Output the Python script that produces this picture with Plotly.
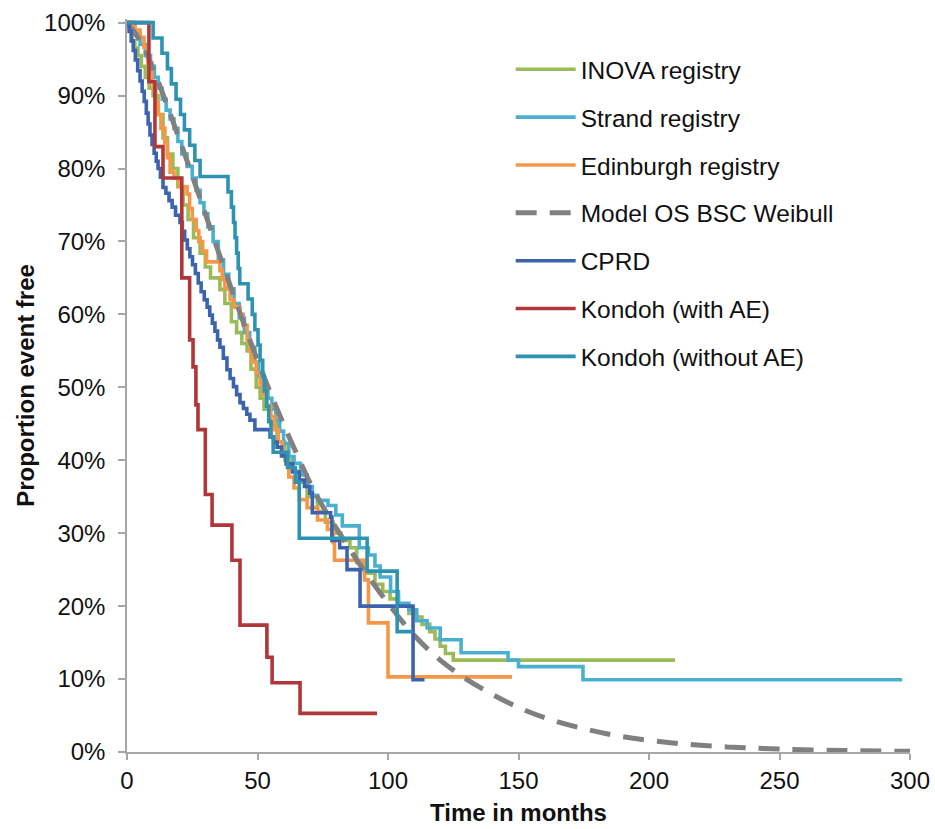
import plotly.graph_objects as go

# Kaplan-Meier style survival data (time in months, proportion event free in %)
inova_t = [0, 1, 2, 3, 4.2, 5.5, 7, 8.5, 10, 11.9, 13.8, 15.5, 17.6, 19.5, 21.5, 23.4, 25.5, 28, 30, 32,
           35.6, 37.5, 40, 42, 44, 46, 47.5, 49.5, 51, 52.5, 55, 57.5, 60.5, 63, 66, 69, 73, 76, 79, 82,
           85.4, 88, 91, 95, 98, 100.8, 104, 108, 111, 113, 116, 118, 120, 122, 125, 210]
inova_s = [100, 99, 97.5, 96.5, 95.5, 94, 92.5, 91, 90, 87.4, 84.2, 82, 80, 77.5, 75, 73, 70.5, 68.4, 66.5, 65,
           63.4, 61.5, 59, 57.5, 56, 55, 52.5, 50, 48.5, 47, 45, 42.5, 40, 38.5, 37, 35, 33, 31.5, 30, 29,
           28, 26, 24.5, 23, 22, 21, 20, 19, 18.5, 17.5, 16.5, 15.5, 14.5, 13.5, 12.6, 12.6]

strand_t = [0, 3, 5, 7, 9, 10.5, 12, 13.5, 15, 16.5, 18, 19.5, 21, 23, 25, 26.5, 28, 29.5, 31, 33, 35, 37,
            39, 41, 43, 45, 47, 49, 50.5, 52, 54, 55.5, 57, 58.5, 60, 62, 64, 66.5, 69, 71, 73, 77, 80,
            82.5, 89, 92.5, 95, 97, 101, 104, 108, 111, 115, 120, 128, 146, 150, 174.7, 297]
strand_s = [100, 98.5, 97, 95.5, 94, 92.5, 91, 89.5, 88, 86.8, 85.5, 83.7, 82, 80.3, 78.7, 77, 75.3, 73.8, 72,
            70, 67.5, 65.5, 63.5, 61.5, 59.5, 57.5, 55.5, 53.5, 51.5, 49.7, 48.5, 47, 45.5, 44, 42.3, 40.5,
            39.6, 38, 36.4, 35.2, 34.5, 33.8, 32.5, 31, 28, 27, 25.5, 24, 22, 20.4, 19.5, 18, 17, 15.4, 13.6,
            12.6, 11.7, 9.9, 9.9]

edinburgh_t = [0, 3, 5, 6.5, 8, 9.5, 10, 11, 12, 13, 14.5, 15.5, 16.5, 18, 20, 23, 24, 25, 26.5, 27.5, 29,
               30.5, 35.6, 36.5, 37.5, 39.5, 41, 43.3, 44.5, 46, 47, 48, 49.5, 51, 52, 53.5, 55, 56.5, 58,
               59.5, 61, 62, 64, 66, 69, 73, 76.8, 79, 79.5, 91, 92.5, 100, 147.5]
edinburgh_s = [100, 99, 98, 96.6, 94.5, 92, 91, 89, 87.4, 85.5, 83.5, 81.5, 79.5, 78.7, 77.5, 76.5, 74.5, 73,
               71.5, 70, 68.7, 67.2, 66, 64.8, 63.6, 62, 61, 60, 58.5, 56.5, 55, 53.5, 52, 50.5, 49, 47.5,
               46, 44.2, 42.5, 41.2, 39.5, 37.7, 36.2, 34.6, 33.5, 31.8, 30.5, 28.7, 26.3, 23.6, 17.7, 10.3,
               10.3]

model_t = [0, 5, 10, 15, 20, 25, 30, 35, 40, 45, 50, 55, 60, 65, 70, 75, 80, 85, 90, 95, 100, 110, 120, 130,
           140, 150, 160, 175, 190, 210, 230, 250, 275, 300]
model_s = [100, 97.5, 93.7, 89.0, 84.1, 79.0, 73.8, 68.6, 63.5, 58.5, 53.7, 49.2, 44.9, 40.9, 37.0, 33.7,
           30.8, 28.0, 25.3, 22.8, 20.4, 16.0, 12.6, 10.0, 7.9, 6.1, 4.7, 3.2, 2.1, 1.2, 0.7, 0.4, 0.2, 0.1]

cprd_t = [0, 0.8, 1.6, 2.4, 3.2, 4.1, 5.0, 5.8, 6.6, 7.4, 8.1, 8.8, 9.6, 10.4, 11.2, 11.9, 12.8, 13.8, 14.9,
          16.1, 17.3, 18.6, 20.3, 21.2, 22.1, 23.1, 24.1, 25.1, 26.2, 27.3, 28.4, 29.6, 30.7, 31.7, 32.7,
          33.7, 34.7, 35.6, 36.9, 38.3, 39.5, 40.8, 42.0, 43.3, 44.6, 45.9, 47.1, 49.0, 54.8, 56.2, 57.5,
          59.2, 61.0, 63.5, 66.0, 68.0, 70.0, 71.0, 78.0, 78.5, 81.5, 84.3, 89.3, 109.6, 114]
cprd_s = [100, 98.8, 97.5, 96.2, 94.9, 93.4, 92.0, 90.6, 89.2, 87.6, 86.1, 84.6, 83.3, 82.1, 81.0, 80.0, 78.8,
          77.4, 76.6, 75.6, 74.7, 73.6, 72.6, 71.4, 70.2, 69.0, 67.9, 66.8, 65.6, 64.3, 63.1, 62.0, 61.0,
          59.9, 58.8, 57.7, 56.5, 55.5, 54.0, 52.4, 51.2, 50.1, 49.0, 47.9, 47.1, 46.3, 45.5, 44.2, 43.2,
          42.5, 41.8, 40.6, 39.5, 38.4, 37.3, 36.4, 35.5, 32.8, 32.2, 29.0, 28.0, 25.0, 20.0, 9.9, 9.9]

kondoh_ae_t = [0, 8.4, 10.7, 13.8, 21, 24, 25.3, 26.4, 27.2, 30, 32.6, 40.2, 43.3, 53.6, 55.6, 66.3, 95.8]
kondoh_ae_s = [100, 91.9, 83, 78.7, 65, 56.5, 52.8, 47.6, 44.2, 35.3, 31.1, 26.3, 17.4, 13, 9.5, 5.3, 5.3]

kondoh_noae_t = [0, 10, 13.4, 15.5, 17, 18.8, 20.5, 22, 24, 26, 28, 38.7, 40, 40.8, 41.4, 42, 42.6, 43.2,
                 46.4, 48, 49, 50.2, 51, 52, 52.6, 53.5, 54.3, 55.2, 56, 61.5, 64.5, 66, 92, 103.5, 109.5]
kondoh_noae_s = [100, 97.9, 95.8, 93.7, 91.6, 89.5, 87.4, 85.3, 83.2, 81.1, 78.9, 76.8, 74.7, 72.6, 70.5,
                 68.4, 66.3, 64.2, 62.1, 60, 57.9, 55.8, 53.7, 51.6, 49.5, 47.4, 45.3, 43.2, 41.1, 39, 37,
                 29.3, 24.8, 16.5, 16.5]

series = [
    ("INOVA registry", inova_t, inova_s, "#9BBB59", "solid", 3.6, "hv"),
    ("Strand registry", strand_t, strand_s, "#4BB0CF", "solid", 3.6, "hv"),
    ("Edinburgh registry", edinburgh_t, edinburgh_s, "#F79646", "solid", 3.6, "hv"),
    ("Model OS BSC Weibull", model_t, model_s, "#808080", "21px,13px", 5, "spline"),
    ("CPRD", cprd_t, cprd_s, "#3C64AE", "solid", 3.6, "hv"),
    ("Kondoh (with AE)", kondoh_ae_t, kondoh_ae_s, "#B0363A", "solid", 3.6, "hv"),
    ("Kondoh (without AE)", kondoh_noae_t, kondoh_noae_s, "#2E93B0", "solid", 3.6, "hv"),
]

FONT = "Liberation Sans, Arial, sans-serif"

fig = go.Figure()
for i, (name, t, s, color, dash, width, shape) in enumerate(series):
    fig.add_trace(go.Scatter(
        x=t, y=[v / 100 for v in s], mode="lines", name=name, legendgroup=f"g{i}",
        line=dict(color=color, width=width, dash=dash, shape=shape),
    ))

axis_color = "#A6A6A6"
fig.update_layout(
    width=935, height=829,
    margin=dict(l=127, r=25, t=19, b=77),
    paper_bgcolor="white", plot_bgcolor="white",
    font=dict(family=FONT, color="#111111", size=24),
    showlegend=True,
    legend=dict(x=0.49, y=0.962, xanchor="left", yanchor="top",
                font=dict(size=24.5, family=FONT, color="#111111"),
                tracegroupgap=13, bgcolor="rgba(0,0,0,0)", itemwidth=60),
    xaxis=dict(range=[0, 300], tickvals=[0, 50, 100, 150, 200, 250, 300],
               ticks="outside", ticklen=6, tickcolor=axis_color, tickwidth=1.5,
               showline=True, linecolor=axis_color, linewidth=1.5,
               showgrid=False, zeroline=False, automargin=False,
               tickfont=dict(size=24),
               title=dict(text="<b>Time in months</b>", font=dict(size=24), standoff=12)),
    yaxis=dict(range=[0, 1.005], tickvals=[i / 10 for i in range(11)], tickformat=".0%",
               ticks="outside", ticklen=7, tickcolor=axis_color, tickwidth=1.5,
               showline=True, linecolor=axis_color, linewidth=1.5,
               showgrid=False, zeroline=False, ticklabelstandoff=8, automargin=False,
               tickfont=dict(size=24),
               title=dict(text="<b>Proportion event free</b>", font=dict(size=24), standoff=3)),
)

fig.write_html("out.html")
